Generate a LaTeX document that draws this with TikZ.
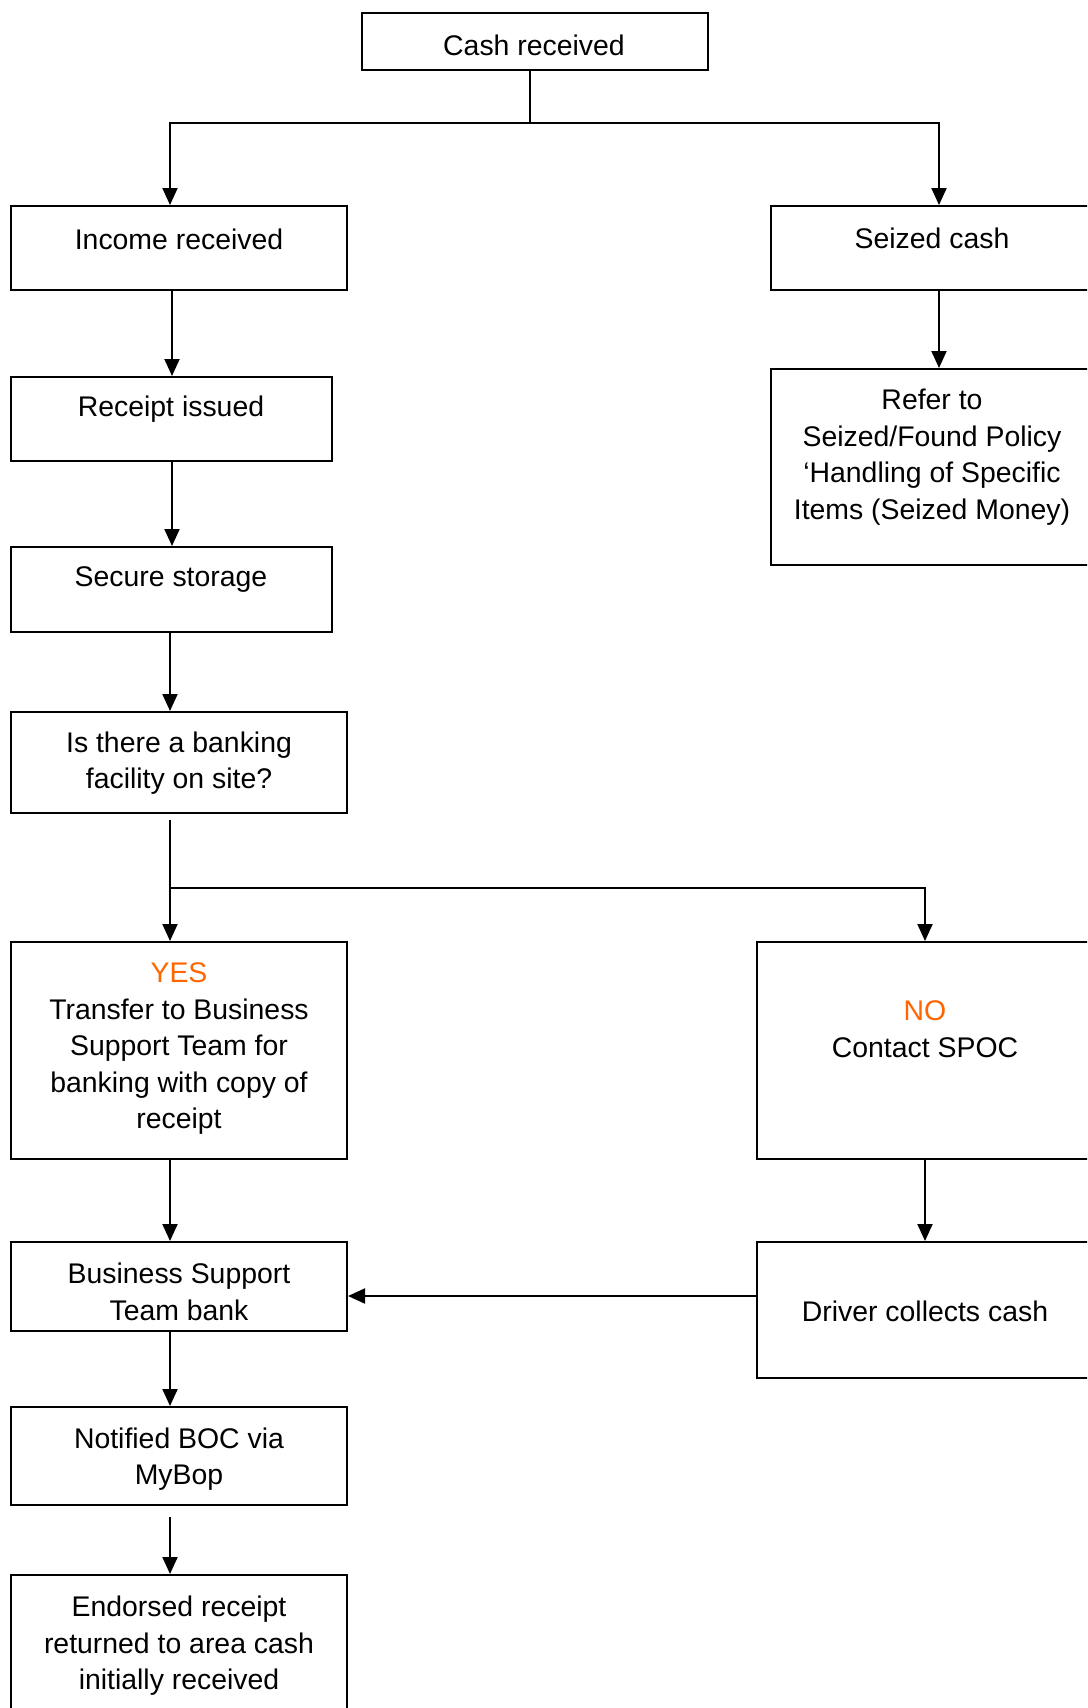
\documentclass[tikz,border=0pt]{standalone}
\usepackage{fontspec}
\setmainfont{Liberation Sans}
\usetikzlibrary{arrows.meta,fit}
\definecolor{yesno}{HTML}{FF6600}
\tikzset{
  box/.style={draw, line width=1pt, inner sep=0pt},
  txt/.style={align=center, inner sep=0pt, font=\fontsize{14.2pt}{18.25pt}\selectfont},
  arr/.style={-{Triangle[length=8.5pt,width=7.5pt]}, line width=1pt},
  ln/.style={line width=1pt}
}
\begin{document}
\begin{tikzpicture}[x=0.5pt,y=-0.5pt]
\useasboundingbox (0,0) rectangle (1087,1708);
\clip (0,0) rectangle (1087,1708);
\fill[white] (0,0) rectangle (1087,1708);
% helper coordinates
\coordinate (xL) at (170,0);
\coordinate (xL2) at (172,0);
\coordinate (xR) at (939,0);
\coordinate (xN) at (925,0);
\coordinate (xC) at (530,0);
\coordinate (s1) at (530,123);
\coordinate (s2) at (170,888);
\coordinate (yD) at (0,1296);
% boxes
\node[box, fit={(362,13) (708,70)}] (cash) {};
\node[box, fit={(11,206) (347,290)}] (income) {};
\node[box, fit={(771,206) (1100,290)}] (seized) {};
\node[box, fit={(771,369) (1100,565)}] (refer) {};
\node[box, fit={(11,377) (332,461)}] (receipt) {};
\node[box, fit={(11,547) (332,632)}] (storage) {};
\node[box, fit={(11,712) (347,813)}] (bank) {};
\node[box, fit={(11,942) (347,1159)}] (yes) {};
\node[box, fit={(757,942) (1100,1159)}] (no) {};
\node[box, fit={(757,1242) (1100,1378)}] (driver) {};
\node[box, fit={(11,1242) (347,1331)}] (bst) {};
\node[box, fit={(11,1407) (347,1505)}] (boc) {};
\node[box, fit={(11,1575) (347,1720)}] (endr) {};
% texts
\node[txt] (cashT) at (534,45) {Cash received};
\node[txt] (incomeT) at (179,239) {Income received};
\node[txt] (seizedT) at (932,238) {Seized cash};
\node[txt] (referT) at (932,457) {Refer to\\Seized/Found Policy\\`Handling of Specific\\Items (Seized Money)};
\node[txt] (receiptT) at (171,409) {Receipt issued};
\node[txt] (storageT) at (171,580) {Secure storage};
\node[txt] (bankT) at (179,763) {Is there a banking\\facility on site?};
\node[txt] (yesT) at (179,1049) {\textcolor{yesno}{YES}\\Transfer to Business\\Support Team for\\banking with copy of\\receipt};
\node[txt] (noT) at (925,1029) {\textcolor{yesno}{NO}\\Contact SPOC};
\node[txt] (driverT) at (925,1311) {Driver collects cash};
\node[txt] (bstT) at (179,1292) {Business Support\\Team bank};
\node[txt] (bocT) at (179,1459) {Notified BOC via\\MyBop};
\node[txt] (endT) at (179,1646) {Endorsed receipt\\returned to area cash\\initially received};
% connectors
\draw[ln] (cash.south -| xC) -- (s1);
\draw[arr] (s1) -| (income.north -| xL);
\draw[arr] (s1) -| (seized.north -| xR);
\draw[arr] (seized.south -| xR) -- (refer.north -| xR);
\draw[arr] (income.south -| xL2) -- (receipt.north -| xL2);
\draw[arr] (receipt.south -| xL2) -- (storage.north -| xL2);
\draw[arr] (storage.south -| xL) -- (bank.north -| xL);
\draw[arr, shorten <=3pt] (bank.south -| xL) -- (yes.north -| xL);
\draw[arr] (s2) -| (no.north -| xN);
\draw[arr] (no.south -| xN) -- (driver.north -| xN);
\draw[arr] (yes.south -| xL) -- (bst.north -| xL);
\draw[arr] (driver.west |- yD) -- (bst.east |- yD);
\draw[arr] (bst.south -| xL) -- (boc.north -| xL);
\draw[arr, shorten <=5.5pt] (boc.south -| xL) -- (endr.north -| xL);
\end{tikzpicture}
\end{document}
